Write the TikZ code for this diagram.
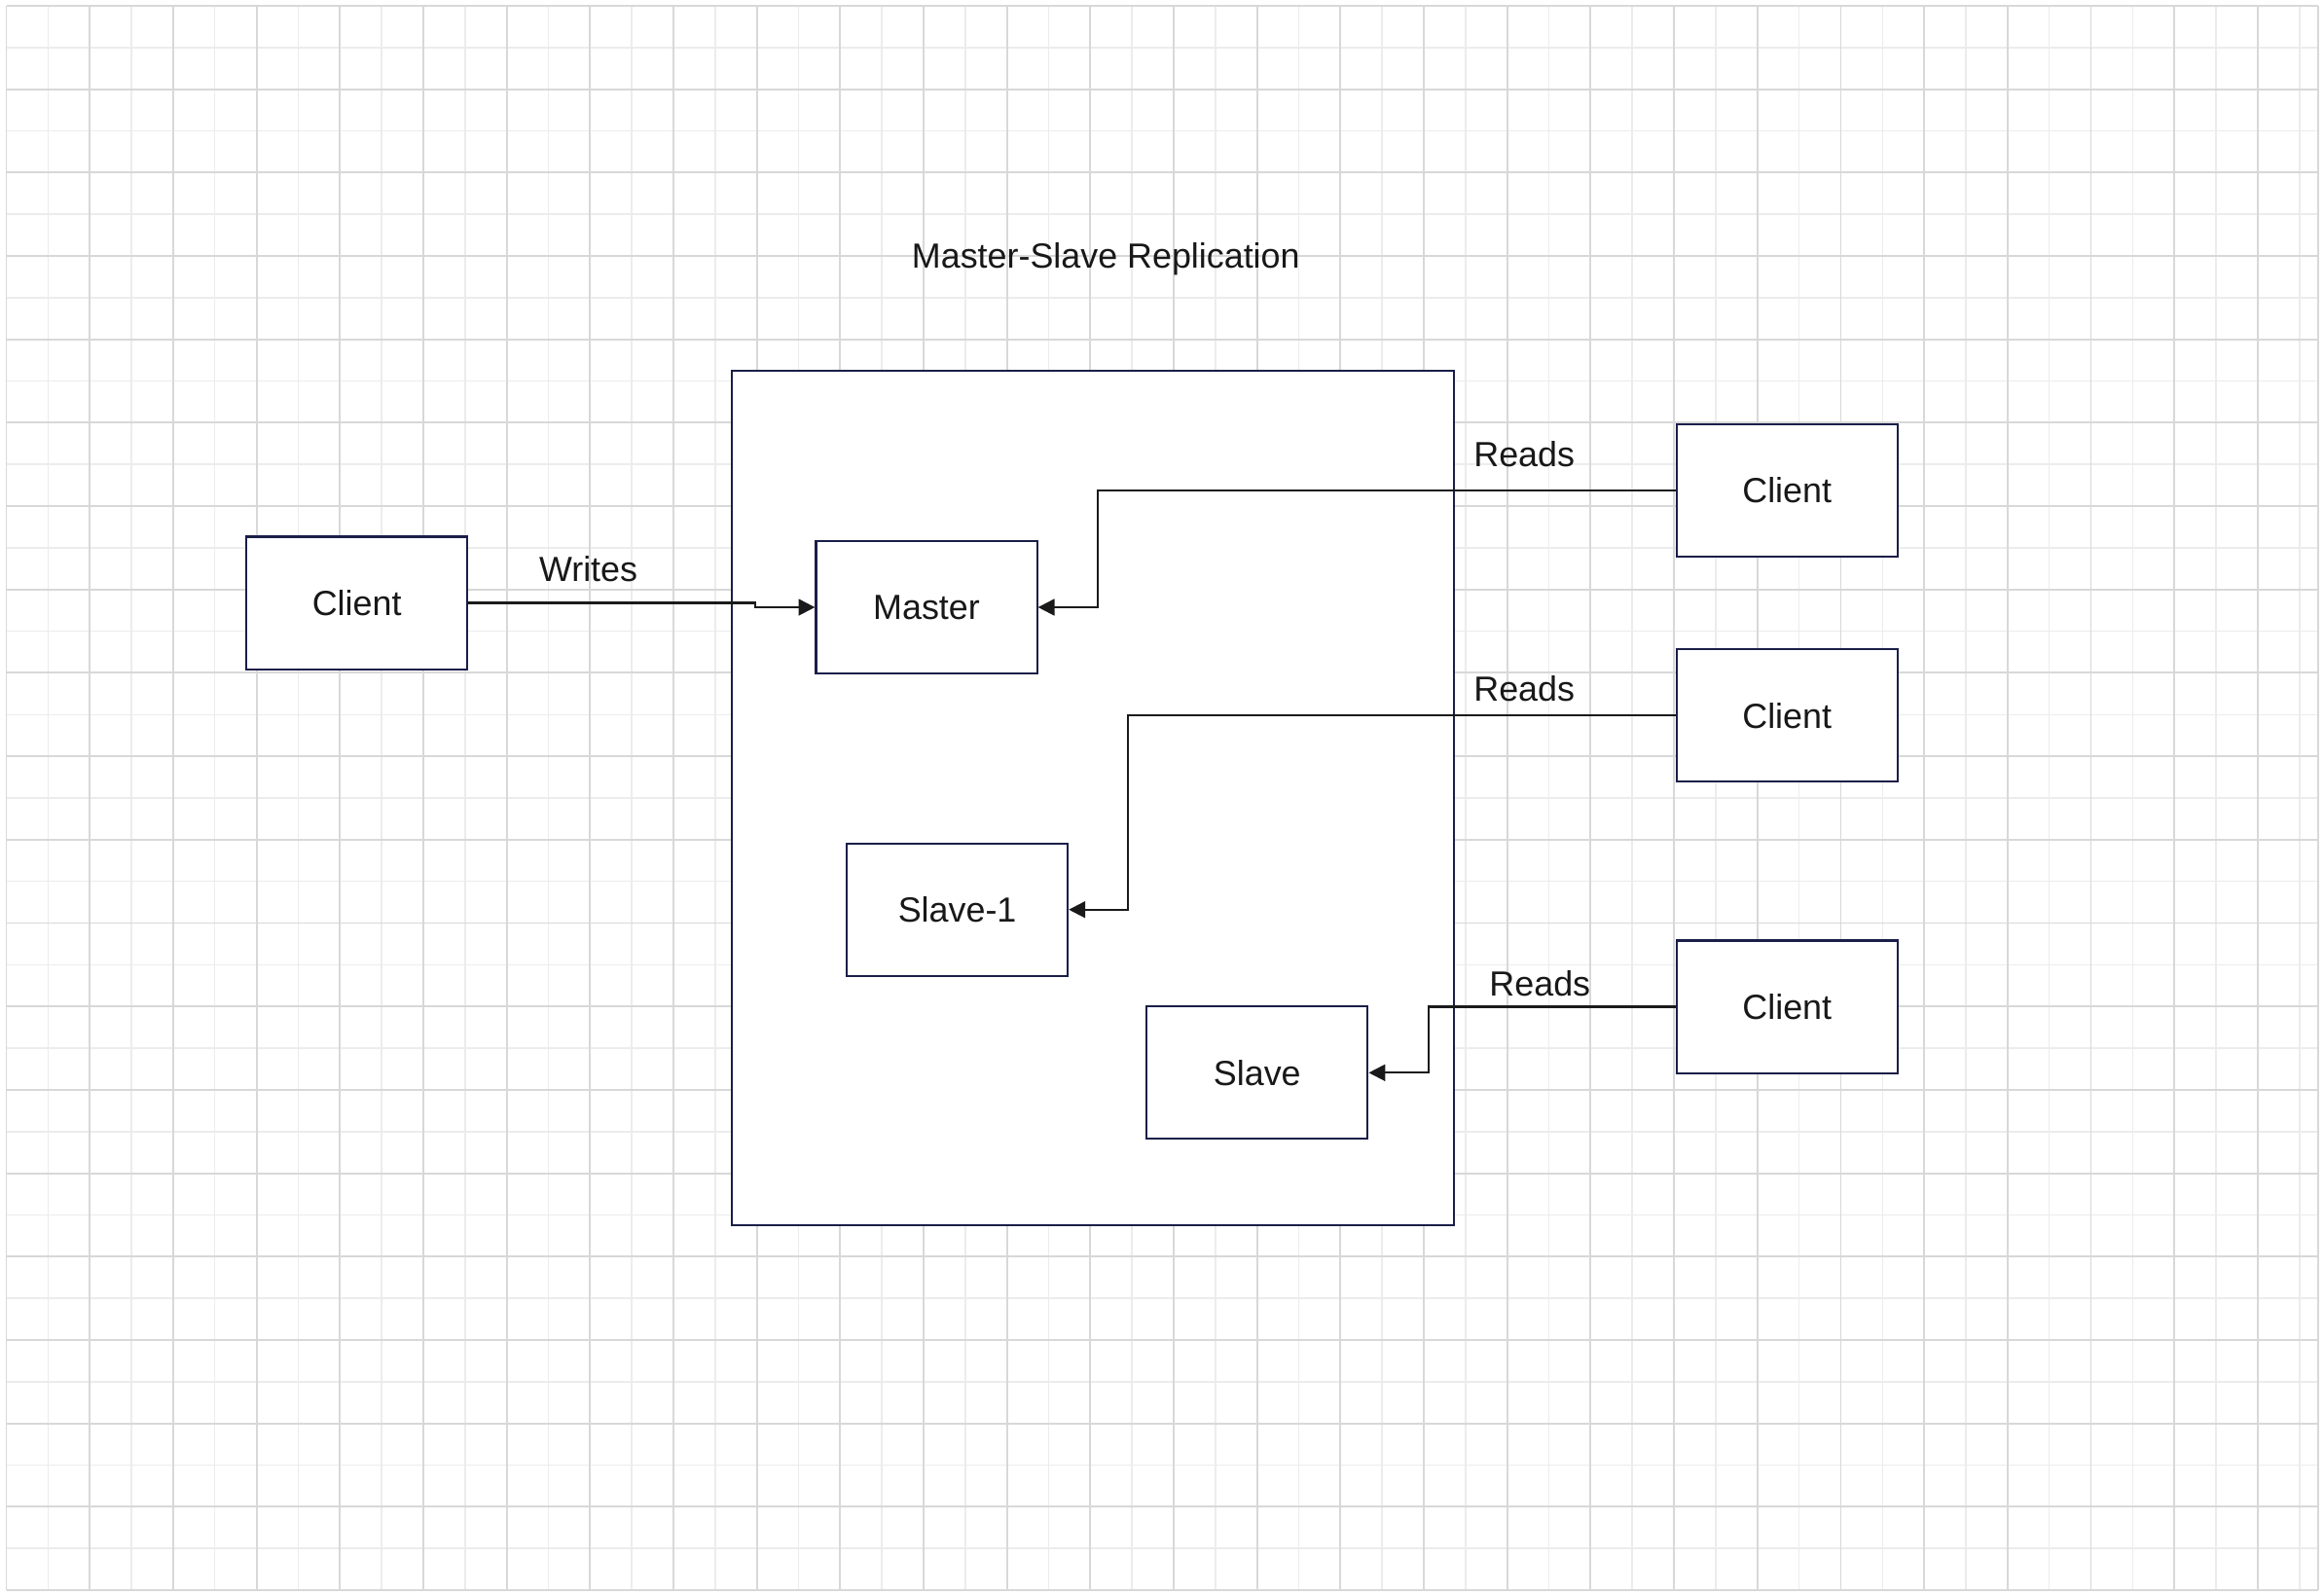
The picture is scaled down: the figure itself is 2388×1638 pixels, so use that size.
\documentclass[tikz,border=0pt]{standalone}
\usepackage{fontspec}
\setmainfont{Liberation Sans}
\usepackage{xcolor}
\usetikzlibrary{arrows.meta}
\definecolor{gridmajor}{RGB}{216,216,216}
\definecolor{gridminor}{RGB}{236,236,236}
\definecolor{boxnavy}{RGB}{26,30,72}
\definecolor{wireblack}{RGB}{26,26,26}
\definecolor{textblack}{RGB}{24,24,24}

\begin{document}
\begin{tikzpicture}[x=0.01cm, y=-0.01cm, every node/.style={font=\fontsize{10.2}{12}\selectfont, text=textblack},
  srv/.style={draw=boxnavy, line width=0.6pt, fill=white, minimum width=2.27cm, minimum height=1.36cm, inner sep=0pt},
  flow/.style={wireblack, line width=0.62pt, -{Triangle[length=4.8pt,width=4.8pt]}}]
  \useasboundingbox (0,0) rectangle (2388,1638);
  % grid
  \foreach \i in {1,3,...,55} \draw[gridminor,line width=0.45pt] (6.5+\i*42.84,6) -- (6.5+\i*42.84,1633.9);
  \foreach \j in {1,3,...,37} \draw[gridminor,line width=0.45pt] (6.5,6+\j*42.84) -- (2381.7,6+\j*42.84);
  \foreach \i in {0,2,...,54} \draw[gridmajor,line width=0.55pt] (6.5+\i*42.84,6) -- (6.5+\i*42.84,1633.9);
  \foreach \j in {0,2,...,38} \draw[gridmajor,line width=0.55pt] (6.5,6+\j*42.84) -- (2381.7,6+\j*42.84);
  \draw[gridmajor,line width=0.55pt] (2381.7,6) -- (2381.7,1633.9);
  \node[anchor=base] (title) at (1136.3,275) {Master-Slave Replication};
  \node[draw=boxnavy, line width=0.55pt, fill=white, minimum width=7.42cm, minimum height=8.78cm] (cluster) at (1123,820) {};
  \node[srv] (client) at (366.7,619.5) {Client};
  \node[srv] (master) at (952,624) {Master};
  \node[srv] (slave1) at (983.6,934.7) {Slave-1};
  \node[srv] (slave) at (1291.8,1102.3) {Slave};
  \node[srv] (readerA) at (1836.2,503.8) {Client};
  \node[srv] (readerB) at (1836.2,735.3) {Client};
  \node[srv] (readerC) at (1836.3,1034.5) {Client};
  \draw[flow] (client.east) -- ++(295,0) |- (master.west);
  \draw[flow] (readerA.west) -- ++(-593.7,0) |- (master.east);
  \draw[flow] (readerB.west) -- ++(-562.2,0) |- (slave1.east);
  \draw[flow] (readerC.west) -- ++(-253.7,0) |- (slave.east);
  \node[anchor=base] (writes) at (604.6,597.3) {Writes};
  \node[anchor=base] (readsA) at (1566.2,479) {Reads};
  \node[anchor=base] (readsB) at (1566.2,720.7) {Reads};
  \node[anchor=base] (readsC) at (1582.3,1023.3) {Reads};
\end{tikzpicture}
\end{document}
